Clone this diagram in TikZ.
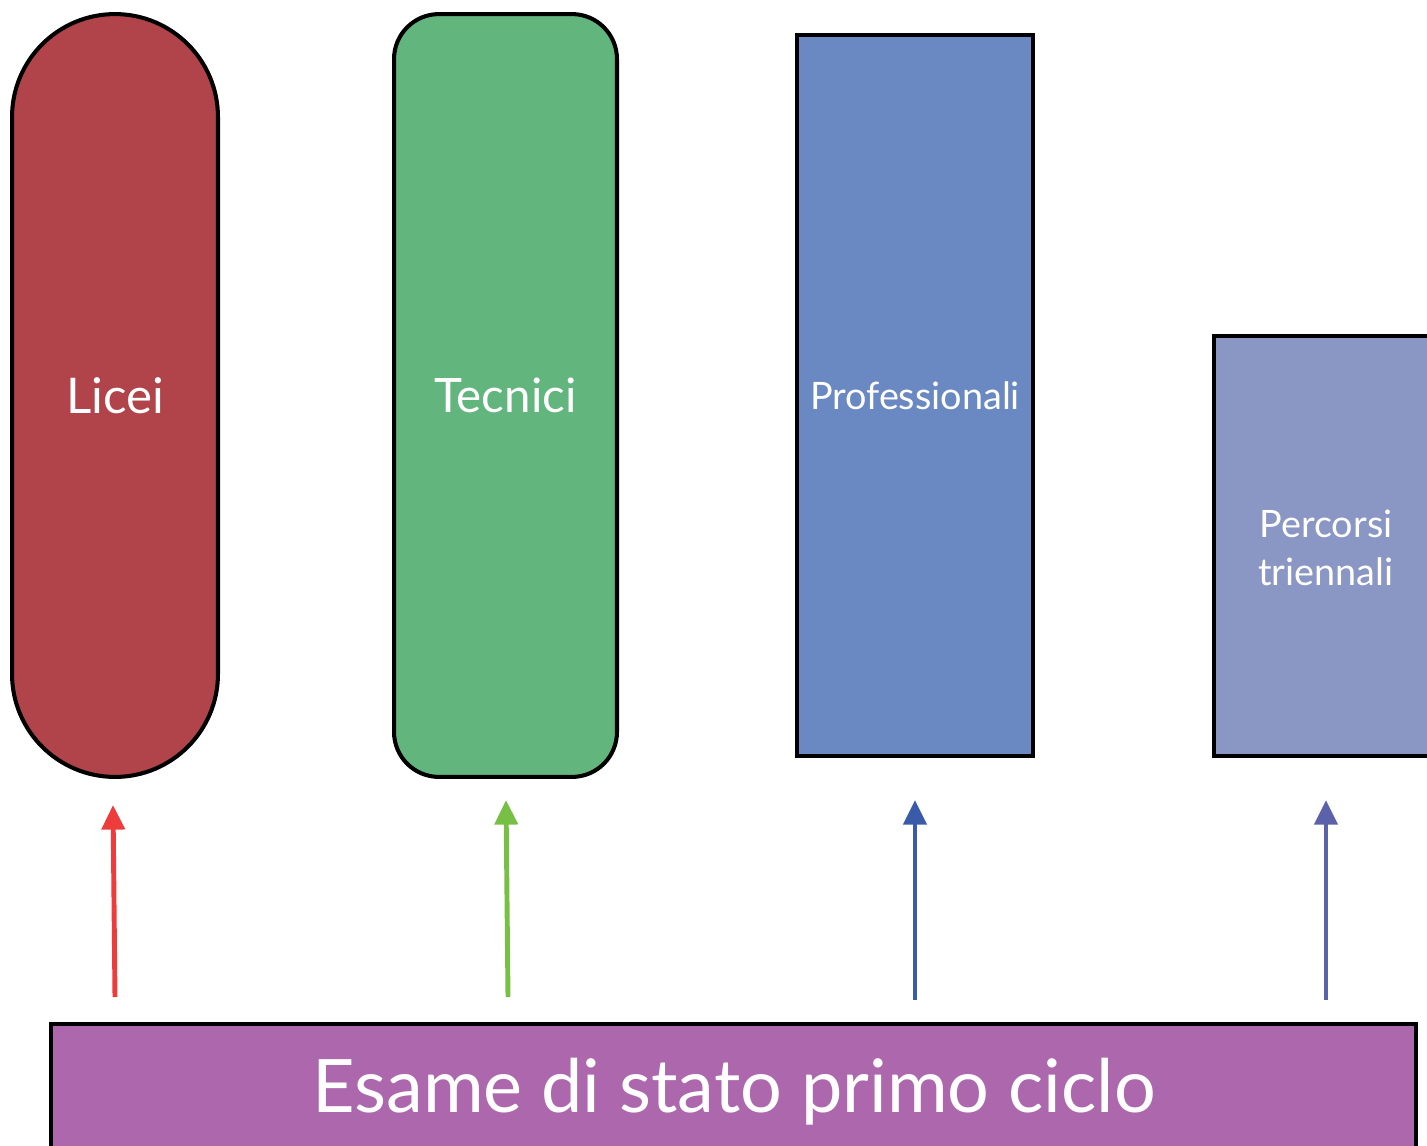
\documentclass[tikz,border=0pt]{standalone}
\usepackage{fontspec}
\setmainfont{Lato}
\usetikzlibrary{arrows.meta}
\definecolor{liceired}{HTML}{B0444A}
\definecolor{tecgreen}{HTML}{63B57E}
\definecolor{profblue}{HTML}{6A88C1}
\definecolor{perclav}{HTML}{8A96C3}
\definecolor{esampurple}{HTML}{AC67AD}
\definecolor{arrred}{HTML}{EE3B3B}
\definecolor{arrgreen}{HTML}{77C045}
\definecolor{arrblue}{HTML}{3A5BAA}
\definecolor{arrpurple}{HTML}{5B62AA}
\tikzset{
  column/.style={draw=black, line width=2.3pt, text=white, align=center, inner sep=0pt},
  uparrow/.style={line width=2.8pt, -{Triangle[length=14pt,width=13pt]}},
}
\begin{document}
\begin{tikzpicture}[x=0.02cm,y=-0.02cm]
\useasboundingbox (0,0) rectangle (1427,1146);
\clip (0,0) rectangle (1427,1146);
\node[column, fill=liceired, rounded corners=2.06cm, minimum width=4.12cm, minimum height=15.26cm,
      font=\fontsize{28}{34}\selectfont] (licei) at (115,395.5) {Licei};
\node[column, fill=tecgreen, rounded corners=0.9cm, minimum width=4.46cm, minimum height=15.26cm,
      font=\fontsize{27}{33}\selectfont] (tecnici) at (505.5,395.5) {Tecnici};
\node[column, fill=profblue, minimum width=4.72cm, minimum height=14.42cm,
      font=\fontsize{21.5}{26}\selectfont] (prof) at (915,395.5) {Professionali};
\node[column, fill=perclav, minimum width=4.52cm, minimum height=8.4cm] (perc) at (1327,546) {};
\node[text=white, align=center, font=\fontsize{21.5}{27}\selectfont] (perctext) at (1326,548) {Percorsi\\triennali};
\node[column, fill=esampurple, minimum width=27.3cm, minimum height=2.72cm] (esame) at (733.5,1092) {};
\node[text=white, font=\fontsize{42}{50}\selectfont] (esametext) at (734,1092) {Esame di stato primo ciclo};
\coordinate (a1s) at (115,997);
\coordinate (a1e) at (113,805);
\coordinate (a2s) at (508,997);
\coordinate (a2e) at (506,800);
\coordinate (a3s) at (915,1000);
\coordinate (a3e) at (915,800);
\coordinate (a4s) at (1326,1000);
\coordinate (a4e) at (1326,800);
\draw[uparrow, arrred] (a1s) -- (a1e);
\draw[uparrow, arrgreen] (a2s) -- (a2e);
\draw[uparrow, arrblue] (a3s) -- (a3e);
\draw[uparrow, arrpurple] (a4s) -- (a4e);
\end{tikzpicture}
\end{document}
